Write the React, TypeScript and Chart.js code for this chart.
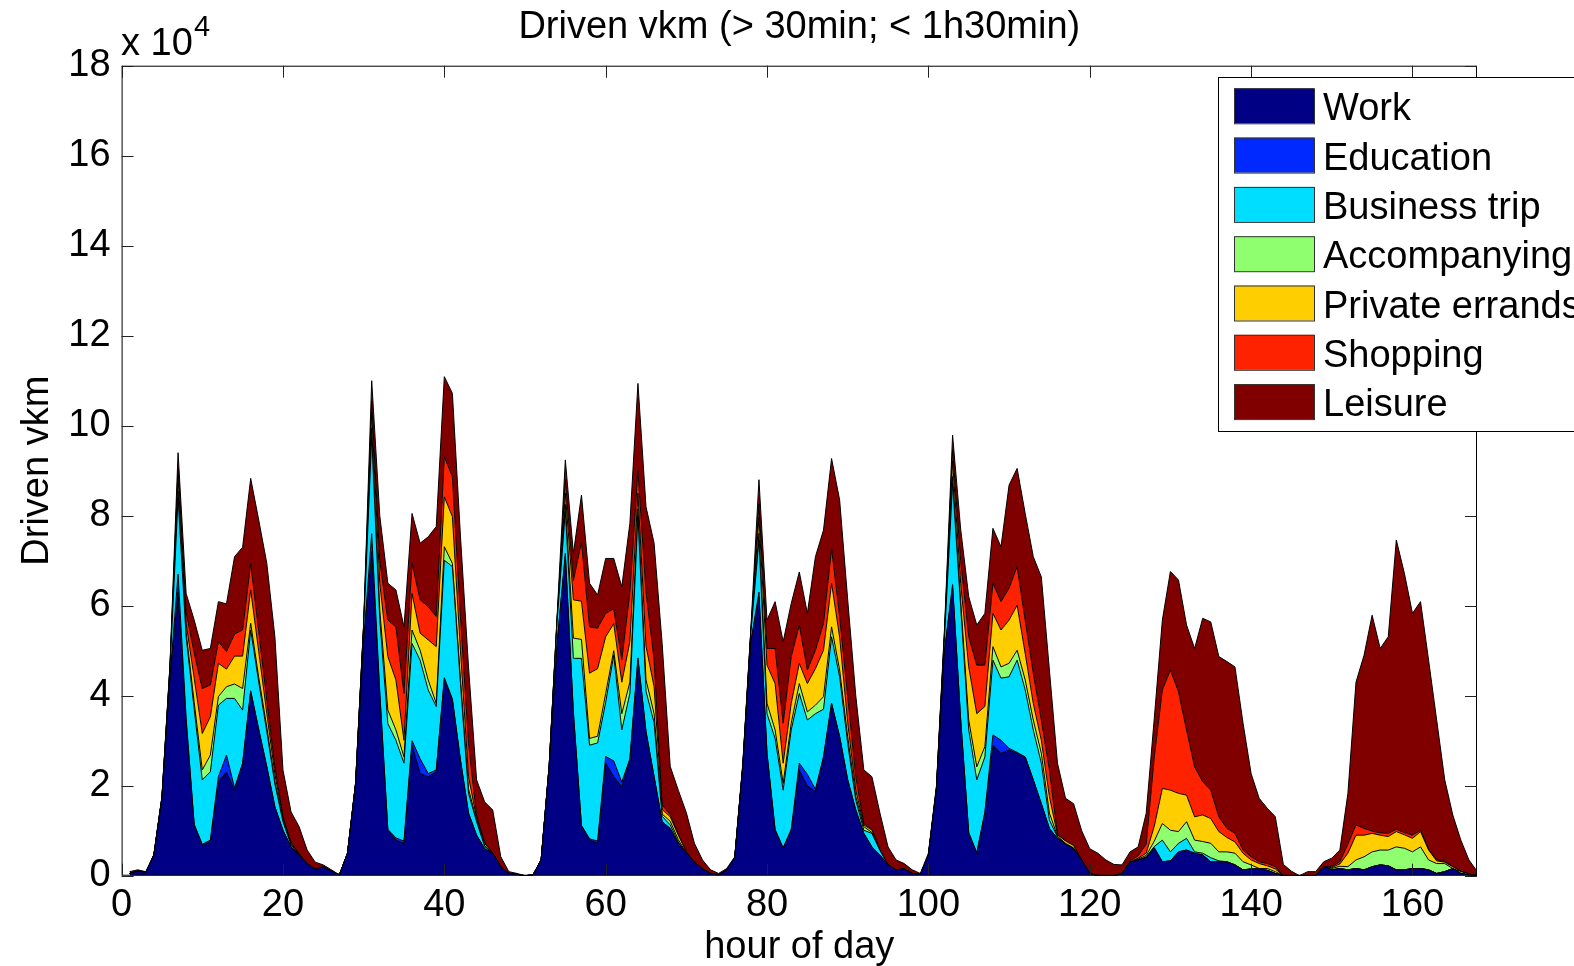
import React, { useEffect, useRef } from "react";
import { Chart, registerables } from "chart.js";
Chart.register(...registerables);

// x categories: hour of the week (1..168)
const hours: number[] = Array.from({ length: 168 }, (_, i) => i + 1);
const xTicks = [0, 20, 40, 60, 80, 100, 120, 140, 160];
const yTicks = [0, 2, 4, 6, 8, 10, 12, 14, 16, 18];

// values in units of 10^4 vkm, one entry per hour (7 days x 24 h)
const work = [
  .05,.1,.07,.45,1.7,4.4,6.3,3.4,1.12,.68,.76,2.1,2.3,1.9,2.49,4.09,3.24,2.42,1.53,1.01,.64,.46,.27,.14,
  .2,.1,.02,.5,2.0,5.2,7.2,4.0,1.01,.79,.72,2.9,2.27,2.2,2.31,4.35,3.9,2.57,1.39,.9,.6,.5,.2,.05,
  .03,0,.02,.35,2.4,5.2,7.1,3.6,1.1,.8,.72,2.5,2.2,1.98,2.57,4.79,3.2,2.2,1.2,1.05,.72,.5,.3,.15,
  .05,.02,.12,.4,2.4,5.2,6.2,2.7,1.01,.61,1.01,2.35,2.0,1.87,2.64,3.83,3.09,2.13,1.46,.94,.64,.46,.24,.13,
  .15,.05,.03,.45,1.9,5.0,6.42,3.46,.94,.5,1.39,2.9,2.72,2.79,2.72,2.64,2.13,1.6,1.05,.83,.7,.6,.35,.05,
  0,0,0,.05,.3,.35,.4,.62,.31,.33,.53,.57,.5,.46,.31,.31,.31,.24,.13,.15,.15,.12,.05,0,
  0,0,0,0,.2,.13,.16,.13,.16,.13,.2,.24,.22,.13,.13,.16,.16,.13,.05,.09,.16,.05,.02,0,
];
const education = [
  0,0,0,0,0,0,.4,.1,.02,.02,.03,.1,.38,.05,.01,.02,.01,0,0,0,0,0,0,0,
  0,0,0,0,0,0,.4,.1,.02,.05,.05,.1,.33,.07,.04,.05,.03,0,0,0,0,0,0,0,
  0,0,0,0,0,0,.06,.03,.02,.02,.05,.15,.35,.1,.03,.05,0,0,0,0,0,0,0,0,
  0,0,0,0,0,0,.1,.02,.02,.01,.02,.15,.25,.05,0,0,0,0,0,0,0,0,0,0,
  0,0,0,0,0,0,.05,.02,.02,.01,.02,.23,.29,.04,.02,0,0,0,0,0,0,0,0,0,
  0,0,0,0,0,0,0,0,0,0,0,0,0,0,0,0,0,0,0,0,0,0,0,0,
  0,0,0,0,0,0,0,0,0,0,0,0,0,0,0,0,0,0,0,0,0,0,0,0,
];
const business = [
  0,0,0,.01,.04,.2,1.7,1.8,2.56,1.43,1.52,1.59,1.26,1.99,1.18,1.35,1.05,.78,.51,.19,.04,.01,0,0,
  0,0,0,0,.05,.3,2.15,1.6,2.35,2.17,1.73,2.16,2.19,1.86,1.41,2.61,2.94,1.7,.44,.3,.05,0,0,0,
  0,0,0,0,.05,.5,.94,1.2,3.71,2.08,2.18,1.2,2.35,1.16,1.45,3.16,.9,1.2,.12,.08,.03,0,0,0,
  0,0,0,0,.05,.2,1.16,.88,2.02,1.28,2.21,1.55,1.21,1.68,1.06,1.48,1.33,.81,.22,.07,.3,.1,0,0,
  0,0,0,0,.05,.3,2.25,2.5,2.28,1.62,1.23,1.66,1.38,1.59,2.05,1.49,1.11,.9,.19,.03,0,0,0,0,
  0,0,0,0,0,0,.02,.03,.48,.2,.19,.26,.03,.04,.09,.02,0,0,0,0,0,0,0,0,
  0,0,0,0,0,0,0,0,0,0,0,0,0,0,0,0,0,0,0,0,0,0,0,0,
];
const accompanying = [
  0,0,0,0,0,.02,.15,.1,.15,.22,.37,.19,.26,.32,.48,.15,.1,.1,.06,.03,.01,0,0,0,
  0,0,0,0,0,.02,.2,.2,.3,.23,.14,.3,.22,.22,.07,.3,.07,.1,.1,.03,.02,0,0,0,
  0,0,0,0,0,.03,.15,.45,.42,.15,.15,.2,.1,.36,.25,.15,.25,.2,.05,.08,.05,.01,0,0,
  0,0,0,0,0,.02,.15,.23,.19,.15,.15,.22,.18,.19,.28,.22,.15,.15,.08,.08,.02,0,0,0,
  0,0,0,0,0,.03,.15,.12,.22,.29,.23,.3,.25,.3,.22,.22,.22,.22,.15,.02,.02,.02,0,0,
  0,0,0,0,0,.02,.03,.12,.37,.48,.26,.37,.26,.26,.32,.2,.22,.26,.18,.09,.01,.04,.04,0,
  0,0,0,0,0,.03,.05,.07,.19,.29,.33,.33,.35,.51,.48,.37,.48,.22,.22,.18,0,.04,.02,0,
];
const privateErrands = [
  0,0,0,0,0,.03,.3,.2,.54,.81,.85,.74,.39,.62,.72,.74,.58,.3,.16,.05,.03,.02,0,0,
  0,0,0,0,0,.03,.35,.6,1.19,1.11,.37,.81,.38,.89,1.26,1.11,1.04,.64,.27,.05,.05,0,0,0,
  0,0,0,0,0,.03,.25,.85,.85,1.45,1.5,1.26,.6,.7,.9,.35,.75,.6,.1,.1,.1,.02,0,0,
  0,0,0,0,0,.02,.35,.85,1.03,.45,.44,.45,.63,.81,1.03,.97,.73,.31,.14,.04,.05,0,0,0,
  0,0,0,0,0,.05,.35,.4,1.18,1.18,.89,.74,.82,.96,1.0,.59,.37,.29,.37,.03,.05,.05,0,0,
  0,0,0,0,0,.02,.05,.33,.78,.89,.85,.59,.52,.59,.55,.45,.32,.25,.19,.11,.11,.06,.06,0,
  0,0,0,0,0,.02,.05,.3,.55,.48,.41,.33,.3,.34,.3,.3,.34,.22,.06,.03,.04,.01,0,0,
];
const shopping = [
  0,0,0,0,0,.02,.2,.25,.56,1.0,.71,.48,.39,.49,.58,.59,.45,.3,.16,.04,.01,0,0,0,
  0,0,0,0,0,.02,.25,.5,.81,1.18,1.04,.67,.74,.74,.67,.89,.89,.75,.74,.05,.02,0,0,0,
  0,0,0,0,0,.02,.3,.43,1.32,1.03,.9,.52,.33,.5,1.1,.5,1.2,.6,.1,.05,.02,0,0,0,
  0,0,0,0,0,.02,.3,.37,.78,.89,1.04,.85,.3,.41,.6,.77,.46,.58,.3,.03,.02,0,0,0,
  0,0,0,0,0,.05,.25,.5,.67,1.08,.92,.67,.63,.71,.86,.74,.67,.45,.59,.01,0,0,0,0,
  0,0,0,0,.03,.05,.2,1.54,2.19,2.67,2.26,1.45,1.11,.74,.63,.33,.2,.19,.07,.07,.04,.05,.05,0,
  0,0,0,0,0,.02,.05,.2,.23,.15,.05,.05,.07,.05,.05,.07,.03,.02,.02,.02,0,0,0,0,
];
const leisure = [
  .04,.03,.02,.01,.02,.03,.35,.42,.73,.85,.81,.89,1.06,1.72,1.84,1.89,2.47,3.04,2.89,1.03,.69,.6,.3,.16,
  .04,.03,0,0,0,.03,.45,1.0,.82,.82,1.48,1.11,1.26,1.55,2.0,1.78,1.85,1.79,1.7,.8,.9,.96,.22,.04,
  .02,0,0,0,0,.05,.44,.6,1.04,.97,.74,1.22,1.12,1.62,1.53,1.94,1.9,2.59,3.59,1.07,.98,.87,.42,.2,
  .08,.03,.04,.02,.05,.04,.54,.63,1.04,1.81,1.18,1.18,1.26,2.08,2.07,2.0,2.59,2.15,1.8,1.19,1.17,.83,.4,.22,
  .12,.08,.02,.05,.05,.07,.32,.7,.89,.89,1.15,1.22,1.22,2.29,2.18,2.37,2.59,3.18,2.22,1.58,.95,.93,.65,.55,
  .5,.35,.25,.19,.2,.2,.69,.86,1.55,2.19,2.48,2.33,2.63,3.63,3.74,3.56,3.71,3.7,2.82,1.85,1.41,1.23,1.11,.25,
  .1,0,.09,.09,.11,.19,.26,1.13,3.17,3.85,4.8,4.1,4.37,6.43,5.76,4.93,5.08,4.2,3.11,1.81,1.15,.69,.31,.1,
];

const seriesLabels = ["Work", "Education", "Business trip", "Accompanying", "Private errands", "Shopping", "Leisure"];
const seriesColors = ["#000084", "#0029FF", "#00DEFF", "#8FFF70", "#FFCE00", "#FF2200", "#800000"];
const seriesData = [work, education, business, accompanying, privateErrands, shopping, leisure];

const FONT = "'Liberation Sans', Arial, Helvetica, sans-serif";

const decor = {
  id: "decor",
  afterDatasetsDraw(chart: any) {
    const { ctx, chartArea: a, scales } = chart;
    ctx.save();
    ctx.strokeStyle = "#000";
    ctx.lineWidth = 1;
    ctx.strokeRect(a.left + 0.5, a.top + 0.5, a.right - a.left - 1, a.bottom - a.top - 1);
    ctx.strokeStyle = "#222";
    const tl = 12;
    scales.x.ticks.forEach((t: any) => {
      const x = Math.round(scales.x.getPixelForValue(t.value)) + 0.5;
      ctx.beginPath();
      ctx.moveTo(x, a.bottom); ctx.lineTo(x, a.bottom - tl);
      ctx.moveTo(x, a.top); ctx.lineTo(x, a.top + tl);
      ctx.stroke();
    });
    scales.y.ticks.forEach((t: any) => {
      const y = Math.round(scales.y.getPixelForValue(t.value)) + 0.5;
      ctx.beginPath();
      ctx.moveTo(a.left, y); ctx.lineTo(a.left + tl, y);
      ctx.moveTo(a.right, y); ctx.lineTo(a.right - tl, y);
      ctx.stroke();
    });
    ctx.restore();
  },
  afterDraw(chart: any) {
    const { ctx, chartArea: a } = chart;
    ctx.save();
    ctx.fillStyle = "#000";
    ctx.textBaseline = "alphabetic";
    // title
    ctx.font = `38px ${FONT}`;
    ctx.textAlign = "center";
    ctx.fillText("Driven vkm (> 30min; < 1h30min)", (a.left + a.right) / 2, 38);
    // x title
    ctx.fillText("hour of day", (a.left + a.right) / 2, 958);
    // y title
    ctx.save();
    ctx.translate(48, (a.top + a.bottom) / 2);
    ctx.rotate(-Math.PI / 2);
    ctx.fillText("Driven vkm", 0, 0);
    ctx.restore();
    // exponent
    ctx.textAlign = "left";
    ctx.fillText("x 10", 121, 55);
    ctx.font = `29px ${FONT}`;
    ctx.fillText("4", 194, 36);
    // legend
    const lx = 1218, ly = 77;
    ctx.fillStyle = "#fff";
    ctx.fillRect(lx, ly, 400, 354);
    ctx.strokeStyle = "#000";
    ctx.lineWidth = 1;
    ctx.strokeRect(lx + 0.5, ly + 0.5, 400, 354);
    ctx.font = `38px ${FONT}`;
    seriesLabels.forEach((lab, i) => {
      const top = 88.3 + i * 49.3;
      ctx.fillStyle = seriesColors[i];
      ctx.fillRect(1234, top, 80, 35);
      ctx.strokeStyle = "#333";
      ctx.strokeRect(1234.5, top + 0.5, 80, 35);
      ctx.fillStyle = "#000";
      ctx.fillText(lab, 1323, top + 32);
    });
    ctx.restore();
  },
};

export default function App() {
  const ref = useRef<HTMLCanvasElement>(null);
  useEffect(() => {
    const canvas = ref.current;
    if (!canvas) return;
    const tickFont = { family: FONT, size: 38 };
    const chart = new Chart(canvas, {
      type: "line",
      data: {
        labels: hours,
        datasets: seriesData.map((d, i) => ({
          label: seriesLabels[i],
          data: d,
          backgroundColor: seriesColors[i],
          borderColor: "#000",
          borderWidth: 1,
          pointRadius: 0,
          tension: 0,
          fill: i === 0 ? "origin" : "-1",
        })),
      },
      options: {
        animation: false,
        responsive: false,
        devicePixelRatio: 1,
        events: [],
        layout: { padding: { top: 65.7, right: 97, left: 0, bottom: 0 } },
        plugins: { legend: { display: false }, title: { display: false }, tooltip: { enabled: false } },
        scales: {
          x: {
            type: "linear",
            min: 0,
            max: 168,
            grid: { display: false, drawTicks: false },
            border: { display: false },
            afterBuildTicks: (s: any) => { s.ticks = xTicks.map((v) => ({ value: v })); },
            ticks: { font: tickFont, color: "#000", padding: 7, maxRotation: 0, autoSkip: false, includeBounds: false },
            afterFit: (s: any) => { s.height = 90.3; },
          },
          y: {
            stacked: true,
            min: 0,
            max: 18,
            grid: { display: false, drawTicks: false },
            border: { display: false },
            afterBuildTicks: (s: any) => { s.ticks = yTicks.map((v) => ({ value: v })); },
            ticks: { font: tickFont, color: "#000", padding: 11 },
            afterFit: (s: any) => { s.width = 121.6; },
          },
        },
      } as any,
      plugins: [decor],
    });
    return () => chart.destroy();
  }, []);
  return (
    <canvas
      ref={ref}
      width={1574}
      height={966}
      style={{ position: "fixed", left: 0, top: 0, width: 1574, height: 966, background: "#fff" }}
    />
  );
}
